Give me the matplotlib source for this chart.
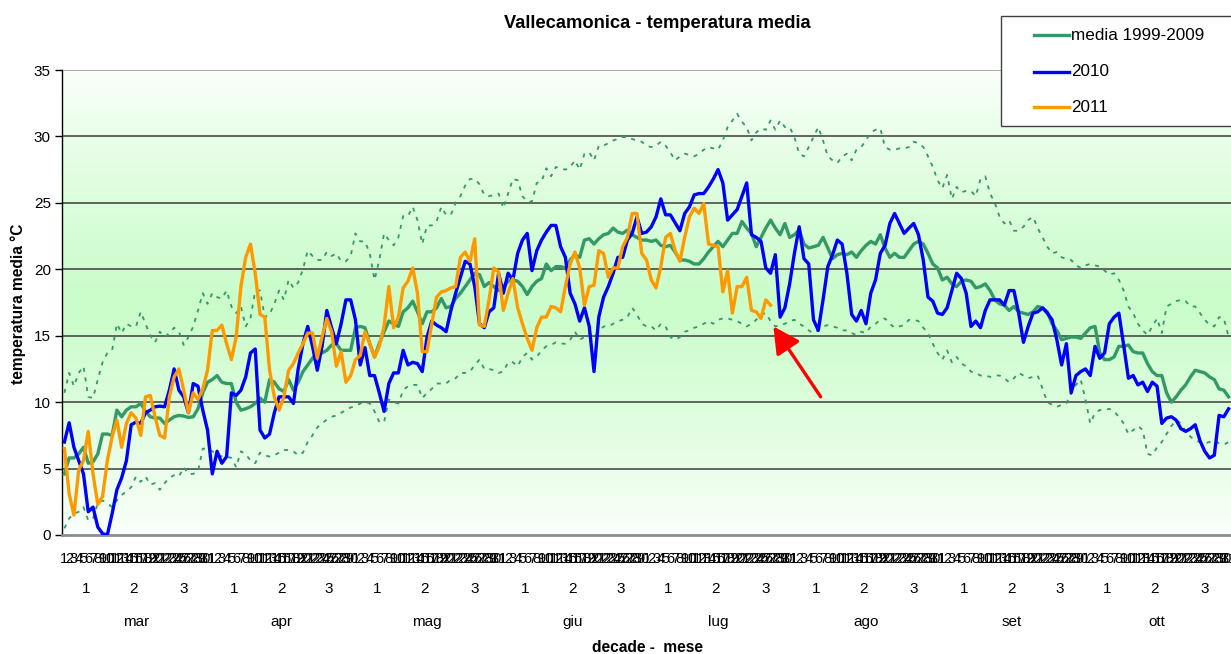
"""Vallecamonica - temperatura media giornaliera, marzo-ottobre.

Media 1999-2009 con min/max del periodo (tratteggiate), 2010 e 2011.
"""
import matplotlib
matplotlib.use("Agg")
import matplotlib.pyplot as plt
from matplotlib.lines import Line2D
from matplotlib.patches import Rectangle
import numpy as np

plt.rcParams["font.family"] = ["Liberation Sans", "DejaVu Sans"]

MONTHS = ["mar", "apr", "mag", "giu", "lug", "ago", "set", "ott"]
MONTH_DAYS = [31, 30, 31, 30, 31, 31, 30, 31]

MEDIA_9909 = [
    4.6, 5.8, 5.8, 6.1, 6.6, 5.4, 5.5, 6.1, 7.6, 7.6, 7.5, 9.4, 8.9, 9.4, 9.65, 9.65,
    9.9, 9.3, 8.9, 8.8, 8.8, 8.4, 8.65, 8.9, 9.0, 8.95, 8.85, 8.9, 9.5, 10.7, 11.5,
    11.7, 12.0, 11.5, 11.4, 11.4, 10.0, 9.4, 9.5, 9.65, 9.9, 10.3, 10.0, 11.7, 11.5,
    11.0, 10.8, 11.7, 10.9, 11.5, 12.3, 12.8, 13.3, 13.7, 13.7, 13.9, 14.3, 14.4,
    13.9, 13.9, 13.9, 15.6, 15.7, 15.6, 14.4, 13.4, 14.4, 15.3, 16.1, 15.9, 15.7,
    16.8, 17.1, 17.6, 16.8, 15.9, 16.8, 16.8, 17.1, 17.8, 17.1, 17.2, 17.8, 18.2,
    18.7, 19.2, 19.7, 19.6, 18.7, 19.0, 18.7, 18.4, 18.7, 19.1, 19.2, 19.1, 18.7,
    18.1, 18.7, 19.1, 19.3, 20.4, 19.9, 20.2, 20.2, 20.1, 20.7, 21.1, 20.9, 22.2,
    22.3, 21.9, 22.3, 22.6, 22.7, 23.1, 22.8, 22.7, 22.95, 22.6, 22.4, 22.2, 22.2,
    22.1, 22.2, 21.8, 21.7, 21.8, 21.3, 20.7, 20.7, 20.6, 20.4, 20.4, 20.8, 21.3,
    21.7, 22.1, 21.7, 22.2, 22.7, 22.7, 23.6, 23.1, 22.7, 21.7, 22.4, 23.1, 23.7,
    23.1, 22.6, 23.45, 22.4, 22.6, 22.95, 21.9, 21.6, 21.7, 21.8, 22.4, 21.6, 20.8,
    21.1, 21.2, 21.1, 21.3, 20.9, 21.4, 21.8, 22.1, 21.9, 22.6, 21.6, 20.9, 21.2,
    20.9, 20.9, 21.4, 21.9, 22.1, 21.9, 21.2, 20.4, 20.1, 19.2, 19.4, 18.9, 18.7,
    19.1, 19.2, 19.1, 18.6, 18.7, 18.9, 18.4, 17.7, 17.4, 17.3, 16.9, 17.2, 16.8,
    16.7, 16.6, 16.8, 17.2, 17.1, 16.8, 15.9, 15.4, 14.7, 14.8, 14.9, 14.9, 14.8,
    15.2, 15.6, 15.7, 13.7, 13.2, 13.2, 13.4, 14.2, 14.2, 14.3, 13.8, 13.7, 13.7,
    12.9, 12.3, 12.0, 12.0, 10.7, 10.0, 10.4, 10.9, 11.3, 11.9, 12.4, 12.3, 12.2,
    11.9, 11.7, 11.0, 10.9, 10.4,
]

T_2010 = [
    7.0, 8.45, 6.6, 5.6, 4.6, 1.75, 2.1, 0.6, 0.1, 0.0, 1.6, 3.4, 4.3, 5.6, 8.3, 8.5,
    8.4, 9.2, 9.4, 9.65, 9.7, 9.65, 10.9, 12.5, 10.9, 10.4, 9.2, 11.4, 11.2, 9.4, 7.9,
    4.6, 6.3, 5.4, 5.9, 10.7, 10.5, 10.9, 11.9, 13.7, 14.0, 7.9, 7.3, 7.6, 9.2, 10.4,
    10.4, 10.4, 9.9, 12.5, 14.4, 15.7, 14.2, 12.4, 14.2, 16.9, 15.6, 14.4, 15.9, 17.7,
    17.7, 16.2, 12.8, 14.1, 12.0, 12.0, 10.7, 9.3, 11.4, 12.2, 12.2, 13.9, 12.8, 13.0,
    12.9, 12.3, 14.9, 16.1, 15.8, 15.6, 15.3, 16.9, 18.2, 19.4, 20.6, 20.4, 18.7, 15.9,
    15.6, 16.8, 17.1, 19.7, 18.2, 19.7, 19.2, 21.2, 22.2, 22.7, 19.9, 21.4, 22.2, 22.8,
    23.3, 23.3, 21.7, 20.9, 18.2, 17.4, 16.1, 17.1, 15.7, 12.3, 16.4, 17.9, 18.7, 19.7,
    20.9, 20.9, 22.2, 22.7, 23.95, 22.7, 22.8, 23.2, 23.95, 25.3, 24.1, 24.1, 23.5,
    22.9, 24.2, 24.7, 25.6, 25.7, 25.7, 26.2, 26.8, 27.5, 26.5, 23.7, 24.1, 24.5, 25.5,
    26.5, 22.6, 22.4, 22.1, 20.1, 19.7, 21.1, 16.4, 17.1, 18.9, 21.2, 23.2, 20.8, 20.4,
    16.2, 15.4, 17.7, 20.2, 21.1, 22.2, 21.9, 19.7, 16.6, 16.1, 16.9, 15.9, 18.2, 19.2,
    21.2, 21.8, 23.45, 24.2, 23.45, 22.7, 23.1, 23.45, 22.6, 20.7, 17.9, 17.6, 16.7,
    16.6, 17.1, 18.4, 19.7, 19.3, 18.2, 15.7, 16.1, 15.6, 16.9, 17.7, 17.7, 17.7, 17.3,
    18.4, 18.4, 16.7, 14.5, 15.7, 16.7, 16.8, 17.1, 16.7, 16.2, 14.7, 12.8, 14.4, 10.7,
    12.0, 12.3, 12.5, 12.0, 14.2, 13.3, 13.7, 15.9, 16.4, 16.7, 14.3, 11.8, 12.0, 11.3,
    11.5, 10.8, 11.5, 11.2, 8.4, 8.8, 8.9, 8.65, 8.0, 7.8, 8.0, 8.3, 7.1, 6.3, 5.8, 6.0,
    9.0, 8.9, 9.5,
]

# 2011 disponibile fino al 27 luglio
T_2011 = [
    6.5, 3.1, 1.5, 4.9, 5.6, 7.8, 4.6, 2.3, 2.9, 5.6, 7.4, 8.65, 6.6, 8.4, 9.2, 8.8,
    7.5, 10.4, 10.5, 8.9, 7.5, 7.3, 10.4, 11.9, 12.5, 10.9, 9.2, 10.7, 10.2, 11.0, 12.4,
    15.4, 15.4, 15.8, 14.4, 13.2, 14.9, 18.7, 20.9, 21.9, 19.7, 16.6, 16.4, 12.4, 10.4,
    9.4, 10.4, 12.4, 12.9, 13.7, 14.4, 15.2, 15.2, 13.3, 14.9, 16.3, 15.3, 12.7, 13.8,
    11.5, 12.0, 13.2, 13.5, 15.3, 14.4, 13.4, 14.2, 15.7, 18.7, 15.6, 16.4, 18.6, 19.1,
    20.1, 18.2, 13.8, 13.8, 15.9, 17.9, 18.3, 18.4, 18.6, 18.7, 20.9, 21.3, 20.6, 22.3,
    15.8, 15.7, 17.7, 20.1, 19.8, 16.9, 18.2, 19.3, 17.1, 15.9, 14.8, 13.9, 15.6, 16.4,
    16.4, 17.2, 17.1, 16.8, 18.7, 20.4, 21.3, 20.1, 17.3, 18.7, 18.8, 21.4, 21.2, 19.4,
    20.1, 20.1, 21.7, 22.4, 24.2, 24.2, 21.2, 20.7, 19.2, 18.6, 20.2, 22.4, 22.7, 21.4,
    20.6, 22.4, 23.95, 24.6, 24.2, 24.95, 21.9, 21.8, 21.7, 18.3, 19.9, 16.7, 18.7,
    18.7, 19.4, 16.9, 16.8, 16.3, 17.7, 17.3,
]

MAX_9909 = [
    10.7, 12.2, 11.2, 12.2, 12.7, 10.4, 10.3, 11.7, 13.0, 13.7, 13.9, 15.9, 15.2, 15.9,
    15.7, 15.7, 16.8, 15.9, 15.0, 14.5, 15.3, 14.9, 15.2, 15.6, 15.3, 14.3, 14.9, 15.7,
    16.9, 18.2, 17.4, 18.2, 17.9, 17.8, 18.4, 17.2, 16.7, 17.2, 15.7, 16.3, 18.4, 18.4,
    16.4, 16.6, 17.4, 18.4, 17.7, 19.2, 18.6, 19.0, 20.0, 21.4, 21.0, 20.7, 20.7, 21.3,
    21.0, 21.2, 20.6, 20.6, 21.0, 22.7, 22.1, 22.1, 21.2, 19.2, 20.7, 22.7, 22.2, 21.8,
    22.4, 24.0, 24.0, 24.7, 23.7, 21.9, 23.3, 23.3, 23.6, 24.7, 24.1, 24.1, 25.0, 25.5,
    26.3, 26.8, 26.8, 26.4, 25.6, 25.5, 25.6, 25.7, 24.6, 25.7, 26.8, 26.7, 25.5, 25.1,
    25.1, 26.5, 26.6, 27.6, 27.0, 27.7, 27.6, 27.5, 27.7, 28.2, 27.5, 28.7, 28.8, 28.2,
    29.3, 29.3, 29.5, 29.7, 29.8, 29.95, 29.95, 29.8, 29.7, 29.6, 29.3, 29.2, 29.3,
    29.6, 29.3, 28.8, 28.2, 28.5, 28.7, 28.6, 28.5, 28.7, 29.0, 29.2, 29.1, 29.0, 29.7,
    30.7, 31.2, 31.7, 31.1, 30.7, 29.7, 30.3, 30.6, 30.5, 31.2, 30.5, 31.2, 30.7, 30.7,
    29.95, 28.7, 28.5, 29.2, 29.95, 30.7, 29.7, 28.5, 28.2, 28.0, 28.5, 28.7, 28.2,
    29.0, 29.2, 29.7, 30.3, 30.5, 30.6, 29.2, 29.0, 29.0, 29.1, 29.1, 29.2, 29.6, 29.5,
    29.2, 28.5, 27.7, 26.7, 26.1, 27.1, 25.3, 26.2, 25.8, 25.9, 25.9, 25.5, 26.8, 27.0,
    25.7, 25.0, 23.95, 23.45, 23.7, 22.9, 22.9, 23.2, 23.7, 23.95, 23.1, 22.4, 21.7,
    21.2, 21.3, 20.9, 20.8, 20.7, 20.3, 20.1, 20.3, 20.4, 20.3, 20.2, 19.9, 19.6, 19.7,
    19.2, 18.4, 17.2, 16.7, 15.9, 15.4, 15.05, 15.7, 16.3, 15.2, 17.2, 17.4, 17.6, 17.7,
    17.6, 17.2, 17.2, 16.7, 16.2, 15.8, 15.7, 16.4, 16.3, 14.9,
]

MIN_9909 = [
    0.5, 1.25, 1.6, 1.75, 2.1, 1.1, 1.25, 2.4, 2.6, 2.4, 2.1, 2.6, 3.0, 3.3, 3.6, 4.4,
    4.0, 4.4, 3.8, 3.9, 3.4, 3.9, 4.3, 4.5, 4.4, 5.1, 4.6, 4.6, 4.8, 6.5, 6.5, 6.3, 6.1,
    5.9, 5.9, 5.8, 5.1, 6.3, 6.1, 5.6, 5.4, 6.2, 6.0, 5.9, 6.0, 6.2, 6.4, 6.4, 6.3, 6.0,
    6.2, 7.0, 7.5, 8.1, 8.4, 8.7, 8.9, 9.0, 9.2, 9.4, 9.6, 9.7, 9.9, 10.0, 9.9, 9.3,
    8.5, 8.5, 10.2, 10.0, 9.9, 10.9, 11.2, 11.3, 11.3, 10.3, 10.7, 11.0, 11.4, 11.4,
    11.4, 11.7, 11.8, 12.2, 12.2, 12.3, 12.8, 13.2, 12.5, 12.5, 12.4, 12.2, 12.3, 13.0,
    13.0, 12.7, 13.4, 13.7, 13.2, 13.4, 13.9, 14.2, 14.3, 14.5, 14.4, 14.4, 14.7, 15.3,
    14.7, 14.9, 15.2, 14.9, 15.3, 15.7, 15.7, 15.9, 16.1, 16.2, 16.4, 17.1, 16.6, 15.9,
    15.7, 15.7, 15.4, 15.9, 15.7, 14.9, 14.7, 14.9, 15.3, 15.4, 15.6, 15.7, 15.9, 16.1,
    15.9, 16.2, 16.3, 16.3, 16.2, 16.1, 15.9, 15.7, 15.9, 16.2, 16.6, 16.7, 16.1, 15.7,
    15.8, 15.9, 16.1, 16.2, 15.9, 15.7, 15.4, 15.2, 15.4, 15.7, 15.8, 15.7, 15.6, 15.4,
    15.4, 15.2, 15.05, 15.3, 15.2, 15.7, 15.9, 16.2, 16.3, 15.9, 15.6, 15.7, 15.8, 16.2,
    16.2, 16.1, 15.6, 15.2, 14.4, 13.7, 13.2, 13.9, 13.0, 13.4, 12.9, 12.7, 12.3, 12.2,
    12.0, 12.0, 11.9, 12.0, 12.0, 11.8, 11.5, 11.8, 12.2, 12.0, 11.8, 11.9, 12.0, 11.0,
    10.0, 9.8, 9.65, 9.8, 9.9, 10.7, 11.3, 11.7, 10.2, 8.4, 9.2, 9.4, 9.4, 9.5, 9.3,
    8.9, 8.4, 7.6, 7.9, 8.2, 7.9, 6.1, 6.0, 6.6, 7.0, 7.6, 8.2, 8.65, 8.4, 7.8, 7.4,
    7.1, 7.0, 6.9, 7.0, 7.1, 6.9, 6.8, 7.0,
]

# freccia rossa: punta (giorno, °C) e coda
ARROW_TIP = (148.6, 15.7)
ARROW_TAIL = (158.5, 10.4)

W, H = 1231, 654
GREEN = "#339966"
BLUE = "#0000ff"
ORANGE = "#ff9900"


def main() -> int:
    day_labels = [str(d) for n in MONTH_DAYS for d in range(1, n + 1)]
    starts = np.concatenate([[0], np.cumsum(MONTH_DAYS)[:-1]])
    n = len(day_labels)
    x = np.arange(n)

    fig = plt.figure(figsize=(W / 100, H / 100), dpi=100)
    ax = fig.add_axes([62 / W, 1 - 535 / H, (W - 62) / W, 465 / H])

    # sfondo sfumato bianco -> verde chiaro -> bianco
    v = np.linspace(0, 35, 300)
    t = np.clip(1 - np.abs(v - 17.5) / 17.5, 0, 1) ** 0.8
    peak = np.array([0.79, 0.99, 0.79])
    cols = (1 - t)[:, None] * np.array([0.99, 1.0, 0.99]) + t[:, None] * peak
    ax.imshow(cols[:, None, :], origin="lower", aspect="auto",
              extent=(-0.5, n - 0.5, 0, 35), zorder=0, interpolation="bilinear")

    for yv in range(5, 35, 5):
        ax.axhline(yv, color="#3c3c3c", lw=1.1, zorder=1)

    dots = dict(color=GREEN, lw=1.3, ls=(0, (2.2, 3.2)), zorder=2)
    ax.plot(x, MAX_9909, **dots)
    ax.plot(x, MIN_9909, **dots)
    ax.plot(x, MEDIA_9909, color=GREEN, lw=2.4, zorder=3)
    ax.plot(x, T_2010, color=BLUE, lw=2.4, zorder=4)
    ax.plot(np.arange(len(T_2011)), T_2011, color=ORANGE, lw=2.4, zorder=5)

    ax.annotate("", xy=ARROW_TIP, xytext=ARROW_TAIL,
                arrowprops=dict(arrowstyle="-|>,head_length=0.8,head_width=0.42",
                                color="red", lw=2.4, mutation_scale=20,
                                shrinkA=0, shrinkB=0), zorder=6)

    ax.set_xlim(-0.5, n - 0.5)
    ax.set_ylim(0, 35)
    ax.set_yticks(range(0, 36, 5))
    ax.tick_params(axis="y", length=5, width=1, pad=3, labelsize=11)
    ax.set_xticks(x)
    ax.set_xticklabels(day_labels)
    ax.tick_params(axis="x", length=0, pad=12, labelsize=10.5)

    for side in ("top", "right"):
        ax.spines[side].set_visible(False)
    ax.axhline(35, color="#a0a0a0", lw=1.2, zorder=1)
    ax.spines["left"].set_color("black")
    ax.spines["left"].set_linewidth(1.0)
    ax.spines["bottom"].set_color("#8c8c8c")
    ax.spines["bottom"].set_linewidth(2.0)

    trans = ax.get_xaxis_transform()
    for s, nd, name in zip(starts, MONTH_DAYS, MONTHS):
        for a, b, lab in ((0, 10, "1"), (10, 20, "2"), (20, nd, "3")):
            ax.text(s + (a + b) / 2 - 0.5, -54 / 465, lab, transform=trans,
                    ha="center", va="center", fontsize=11)
        ax.text(s + nd / 2 - 0.5, -87 / 465, name, transform=trans,
                ha="center", va="center", fontsize=11)

    fig.text(648 / W, 1 - 647 / H, "decade -  mese", ha="center", va="center",
             fontsize=11.2, fontweight="bold")
    fig.text(18 / W, 1 - 304 / H, "temperatura media °C", rotation=90,
             ha="center", va="center", fontsize=11.2, fontweight="bold")
    fig.text(657 / W, 1 - 23 / H, "Vallecamonica - temperatura media",
             ha="center", va="center", fontsize=13.2, fontweight="bold")

    # legenda disegnata a mano, il riquadro esce dal bordo destro
    box = Rectangle((1001 / W, 1 - 126 / H), 260 / W, 110 / H,
                    transform=fig.transFigure, facecolor="white",
                    edgecolor="#404040", lw=1.0, zorder=10)
    fig.add_artist(box)
    for yy, col, lab in ((35, GREEN, "media 1999-2009"), (72, BLUE, "2010"),
                         (107, ORANGE, "2011")):
        fig.add_artist(Line2D([1034 / W, 1069 / W], [1 - yy / H] * 2,
                              transform=fig.transFigure, color=col, lw=2.4,
                              zorder=11))
        fig.text(1071 / W, 1 - yy / H, lab, ha="left", va="center",
                 fontsize=12.3, zorder=12)

    fig.savefig("out.png", dpi=100)
    plt.close(fig)
    return 0


if __name__ == "__main__":
    raise SystemExit(main())
